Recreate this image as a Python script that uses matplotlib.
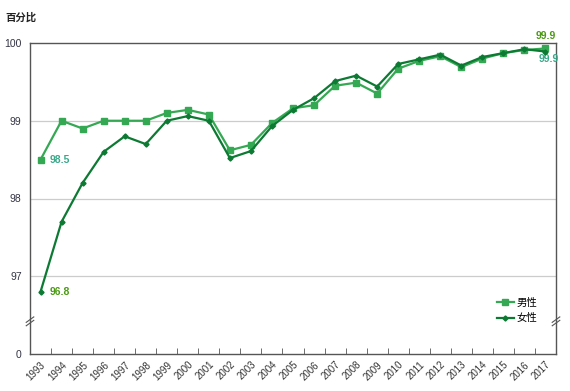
import matplotlib
matplotlib.use("Agg")
import matplotlib.pyplot as plt
import numpy as np

plt.rcParams['font.family'] = ['Liberation Sans', 'Noto Sans CJK SC', 'DejaVu Sans']

years = [str(y) for y in range(1993, 2018)]
male = [98.5, 99.0, 98.9, 99.0, 99.0, 99.0, 99.1, 99.14, 99.08, 98.62, 98.69,
        98.97, 99.16, 99.2, 99.45, 99.49, 99.35, 99.67, 99.77, 99.83, 99.69,
        99.8, 99.87, 99.91, 99.93]
female = [96.8, 97.7, 98.2, 98.6, 98.8, 98.7, 99.0, 99.06, 99.0, 98.52, 98.61,
          98.93, 99.14, 99.29, 99.51, 99.58, 99.44, 99.73, 99.79, 99.85, 99.71,
          99.82, 99.87, 99.92, 99.89]
ytick_vals = [96.0, 97, 98, 99, 100]
ytick_labels = ['0', '97', '98', '99', '100']
series_names = ['男性', '女性']

male_color = '#35a853'
female_color = '#0d7a33'
male_lbl = '#3aa98a'
female_lbl = '#4a9a12'

fig = plt.figure(figsize=(5.7, 3.91), dpi=100)
ax = fig.add_axes([30/570, 1-354/391, 526/570, 311/391])

x = np.arange(len(years))
ax.plot(x, male, color=male_color, lw=1.6, marker='s', ms=4.2, label=series_names[0], zorder=3)
ax.plot(x, female, color=female_color, lw=1.6, marker='D', ms=2.6, label=series_names[1], zorder=4)

ax.set_xlim(-0.5, len(years) - 0.5)
ax.set_ylim(96.0, 100.0)

for v in [97, 98, 99]:
    ax.axhline(v, color='#cccccc', lw=0.9, zorder=1)

ax.set_yticks(ytick_vals)
ax.set_yticklabels(ytick_labels, fontsize=7.5, color='#333344')
ax.tick_params(axis='y', length=0, pad=6)

ax.set_xticks(x)
ax.set_xticklabels(years, rotation=45, ha='right', rotation_mode='anchor', fontsize=7, color='#333333')
ax.tick_params(axis='x', which='major', length=0, pad=4)
ax.set_xticks(np.arange(0.5, len(years) - 0.5, 1), minor=True)
ax.tick_params(axis='x', which='minor', length=4, direction='in', color='#555555')

for s in ax.spines.values():
    s.set_color('#555555')
    s.set_linewidth(1.0)

# break marks
brk = 96.42
for xx in [-0.5, len(years) - 0.5]:
    for dy in [-0.022, 0.022]:
        ax.plot([xx - 0.18, xx + 0.18], [brk + dy - 0.035, brk + dy + 0.035], color='#555555',
                lw=0.8, clip_on=False, zorder=5)

# data labels
ax.text(0.45, male[0], '98.5', color=male_lbl, fontsize=7.5, fontweight='bold', va='center', ha='left')
ax.text(0.45, female[0], '96.8', color=female_lbl, fontsize=7.5, fontweight='bold', va='center', ha='left')
ax.text(len(years) - 1, 100.03, '99.9', color=female_lbl, fontsize=7.5, fontweight='bold', va='bottom', ha='center')
ax.text(len(years) - 1 + 0.15, 99.8, '99.9', color=male_lbl, fontsize=7.5, fontweight='bold', va='center', ha='center')

fig.text(5/570, 1-18/391, '百分比', fontsize=7.5, fontweight='bold', va='center', ha='left', color='#222222')

leg = ax.legend(loc='upper left', bbox_to_anchor=(0.88, 0.195), frameon=False, fontsize=7.5,
                handlelength=1.6, handletextpad=0.3, labelspacing=0.55, borderaxespad=0)

fig.savefig('out.png', dpi=100)
